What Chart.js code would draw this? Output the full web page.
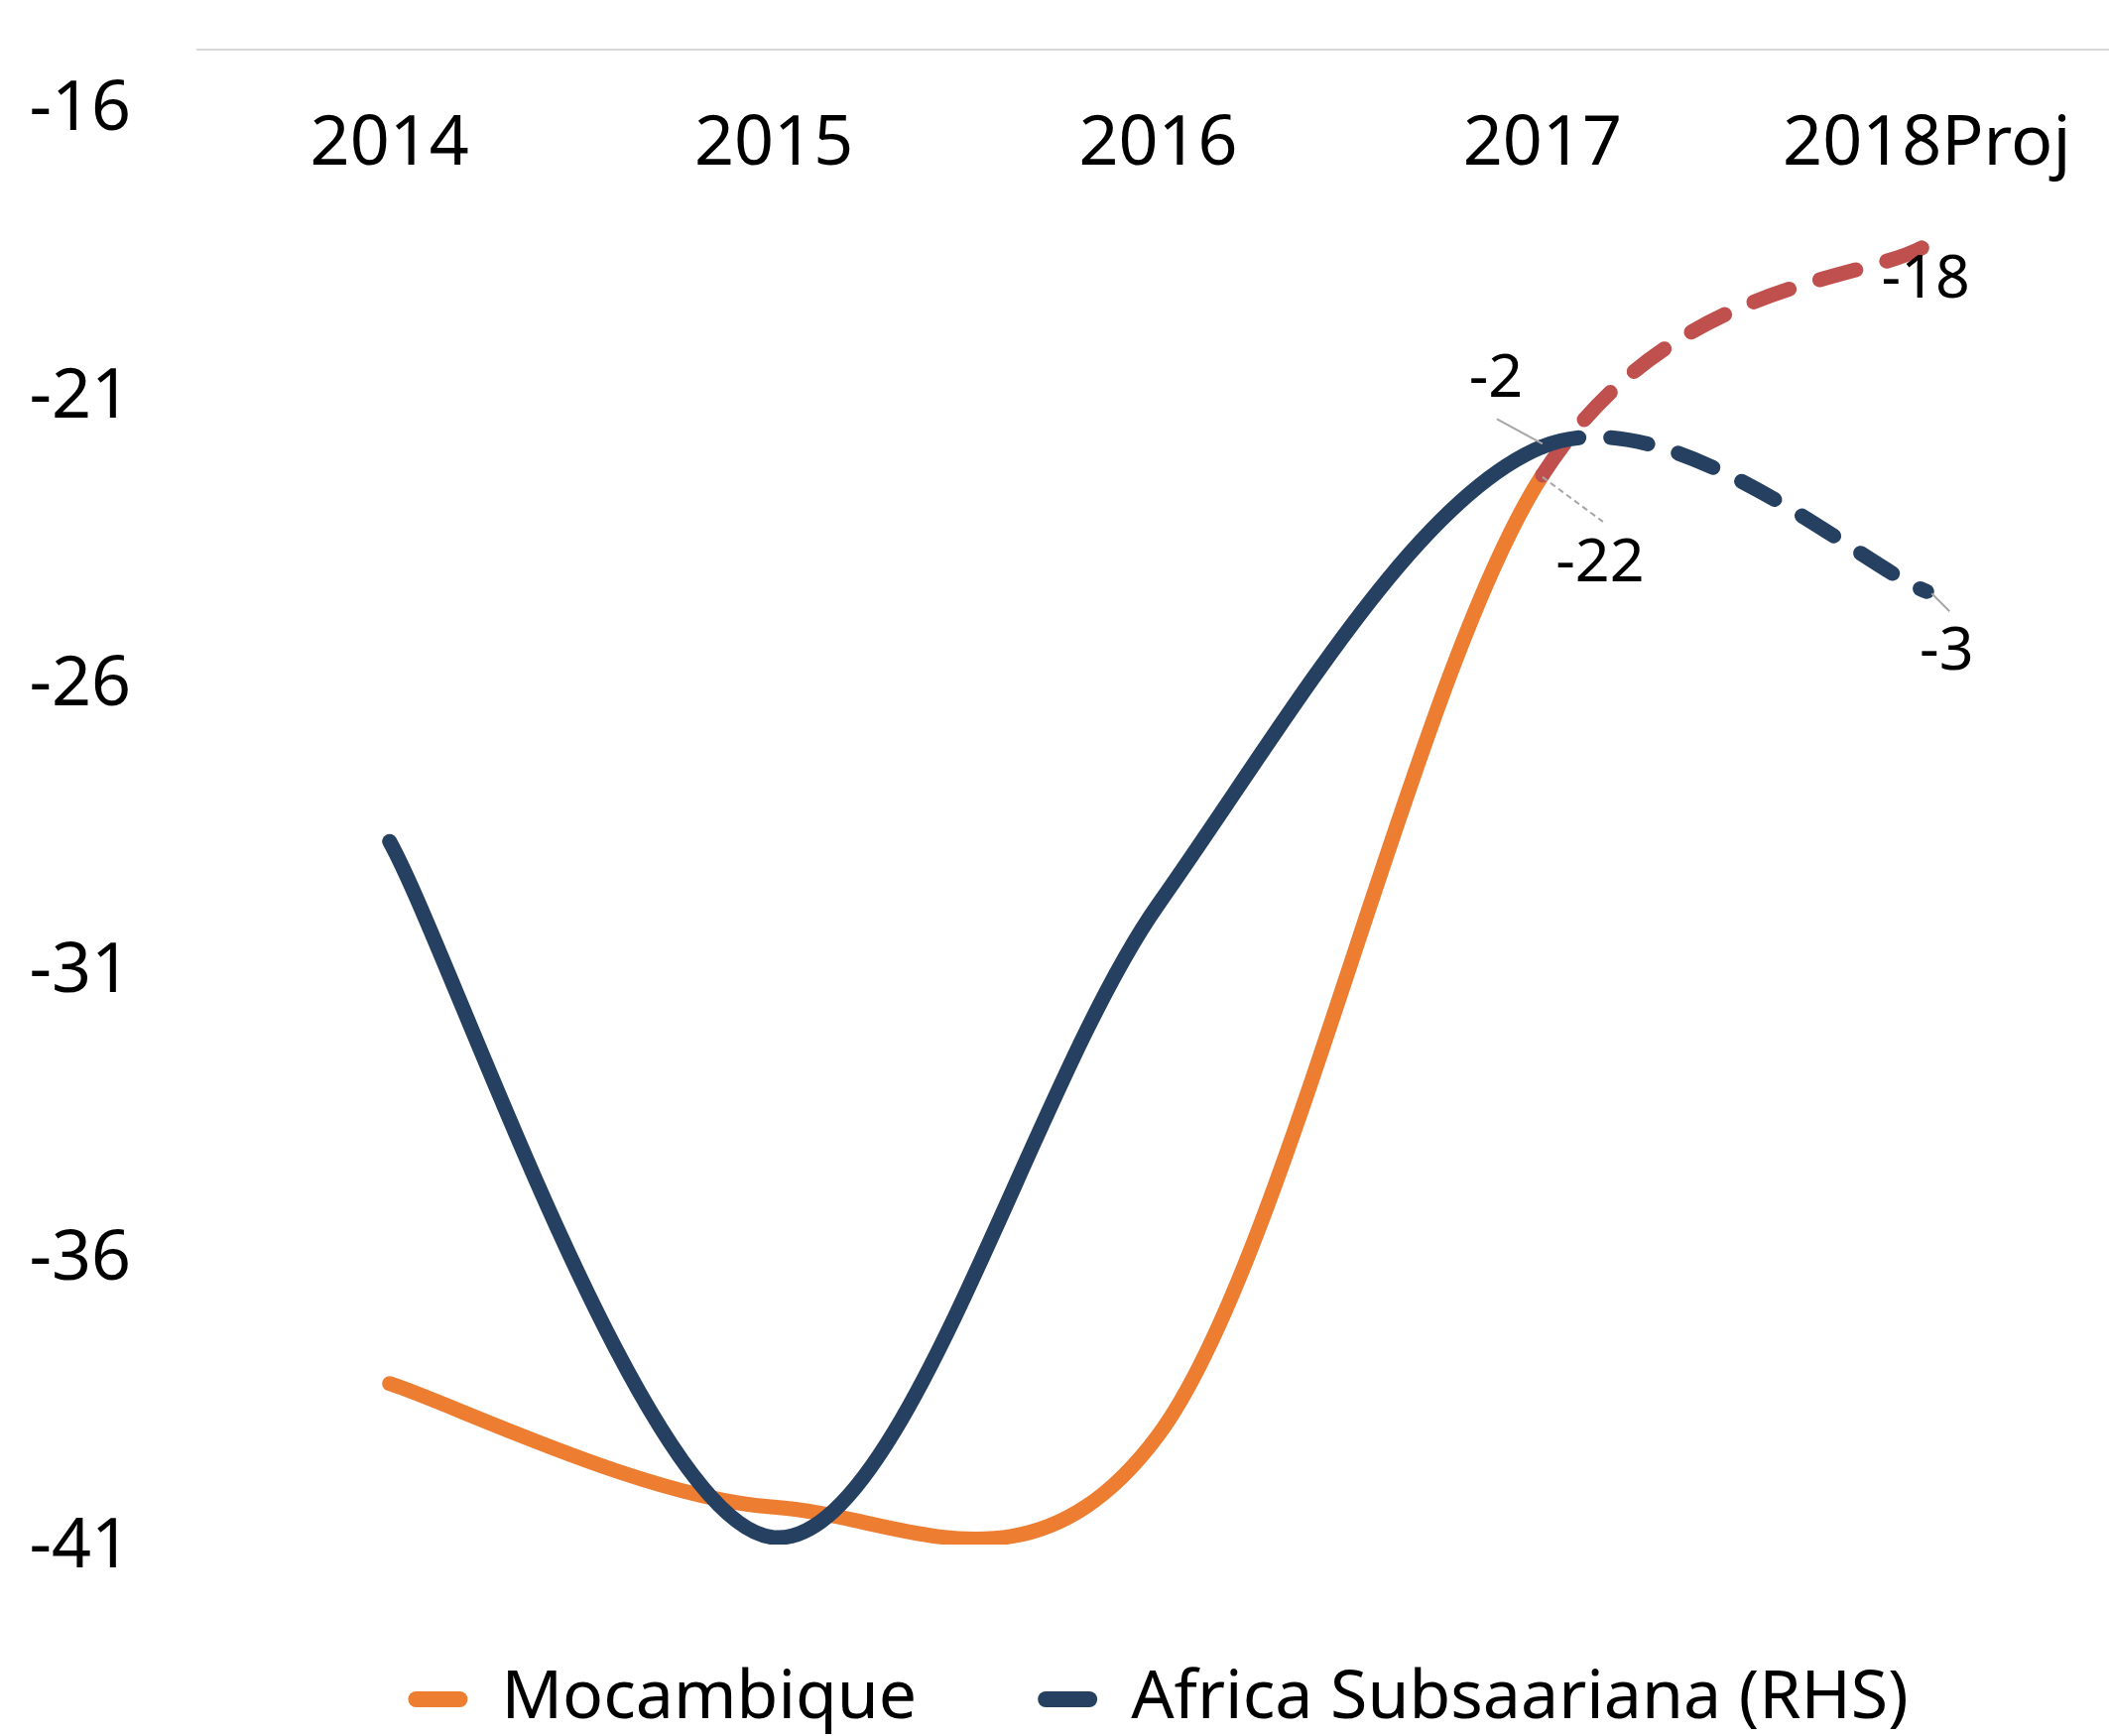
<!DOCTYPE html>
<html>
<head>
<meta charset="utf-8">
<script src="https://cdn.jsdelivr.net/npm/chart.js@4.4.1/dist/chart.umd.min.js"></script>
<style>
  html, body { margin: 0; padding: 0; background: #fff; overflow: hidden; }
  #wrap { width: 2136px; height: 1750px; }
</style>
</head>
<body>
<div id="wrap"><canvas id="chart"></canvas></div>
<script>
// Mocambique (eixo esquerdo) vs Africa Subsaariana (eixo direito, escondido)
const years = ['2014', '2015', '2016', '2017', '2018Proj'];
const mocambique = [-38.2, -40.35, -39.1, -22.4, -18.4];
const africaSub = [-3.99, -6.97, -4.26, -2.3, -2.92];
const leftTicks = [-41, -36, -31, -26, -21, -16];

const orange = '#ED7D31';
const navy = '#254061';
const red = '#C0504D';
const projDash = [38, 32];

Chart.defaults.font.family = "'Noto Sans', 'Open Sans', sans-serif";
Chart.defaults.color = '#000';

// etiquetas dos pontos 2017 / 2018 com linhas de ligacao
const pointLabels = [
    { ds: 1, idx: 3, dx: -47, dy: -68, leader: [-46, -28, 0, -3], dash: [] },
    { ds: 0, idx: 3, dx: 58, dy: 90, leader: [0, 2, 61, 47], dash: [6, 4] },
    { ds: 0, idx: 4, dx: -1, dy: 36 },
    { ds: 1, idx: 4, dx: 20, dy: 61, leader: [5, 2, 23, 20], dash: [] }
];

// curva suave tipo Excel (Catmull-Rom uniforme, 1/6)
const excelSmooth = {
    id: 'excelSmooth',
    beforeDatasetsDraw(chart) {
        chart.getSortedVisibleDatasetMetas().forEach(meta => {
            const pts = meta.data;
            meta.dataset.updateControlPoints(chart.chartArea, 'x');
            for (let i = 0; i < pts.length; i++) {
                const p0 = pts[Math.max(i - 1, 0)];
                const p1 = pts[i];
                const p2 = pts[Math.min(i + 1, pts.length - 1)];
                const tx = (p2.x - p0.x) / 6;
                const ty = (p2.y - p0.y) / 6;
                p1.cp1x = p1.x - tx; p1.cp1y = p1.y - ty;
                p1.cp2x = p1.x + tx; p1.cp2y = p1.y + ty;
            }
        });
    }
};

const labelPlugin = {
    id: 'pointLabels',
    afterDatasetsDraw(chart) {
        const ctx = chart.ctx;
        ctx.save();
        pointLabels.forEach(l => {
            const pt = chart.getDatasetMeta(l.ds).data[l.idx];
            const value = chart.data.datasets[l.ds].data[l.idx];
            if (l.leader) {
                ctx.strokeStyle = '#a6a6a6';
                ctx.lineWidth = 2;
                ctx.setLineDash(l.dash);
                ctx.beginPath();
                ctx.moveTo(pt.x + l.leader[0], pt.y + l.leader[1]);
                ctx.lineTo(pt.x + l.leader[2], pt.y + l.leader[3]);
                ctx.stroke();
            }
            ctx.setLineDash([]);
            ctx.fillStyle = '#000';
            ctx.font = "61px 'Noto Sans', sans-serif";
            ctx.textAlign = 'center';
            ctx.textBaseline = 'middle';
            ctx.fillText(String(Math.round(value)), pt.x + l.dx, pt.y + l.dy);
        });
        ctx.restore();
    }
};

const ctx = document.getElementById('chart').getContext('2d');
const chart = new Chart(ctx, {
    type: 'line',
    data: {
        labels: years,
        datasets: [{
            label: 'Mocambique',
            data: mocambique,
            yAxisID: 'y',
            borderColor: orange,
            borderWidth: 15,
            order: 1,
            segment: {
                borderColor: c => c.p1DataIndex === 4 ? red : undefined,
                borderDash: c => c.p1DataIndex === 4 ? projDash : undefined
            }
        }, {
            label: 'Africa Subsaariana (RHS)',
            data: africaSub,
            yAxisID: 'y2',
            borderColor: navy,
            borderWidth: 15,
            order: 0,
            segment: {
                borderDash: c => c.p1DataIndex === 4 ? projDash : undefined
            }
        }]
    },
    options: {
        responsive: true,
        maintainAspectRatio: false,
        animation: false,
        devicePixelRatio: 1,
        layout: { padding: { top: 50, left: 0, right: 0, bottom: -7 } },
        elements: {
            point: { radius: 0 },
            line: {
                tension: 0.4,
                capBezierPoints: false,
                borderCapStyle: 'round',
                borderJoinStyle: 'round',
                fill: false
            }
        },
        scales: {
            x: {
                type: 'category',
                position: { y: -15 },
                offset: true,
                grid: { display: false, drawTicks: false },
                border: { display: true, color: '#d9d9d9', width: 2 },
                ticks: { font: { size: 70 }, color: '#000', padding: 54, autoSkip: false, maxRotation: 0 },
                afterFit: s => { s.paddingLeft = 0; s.paddingRight = 0; }
            },
            y: {
                position: 'left',
                min: -41,
                max: -15,
                grid: { display: false, drawTicks: false },
                border: { display: false },
                ticks: { font: { size: 70 }, color: '#000', padding: 67, labelOffset: 3, callback: v => String(v) },
                afterBuildTicks: s => { s.ticks = leftTicks.map(v => ({ value: v })); },
                afterFit: s => { s.width = 199; s.paddingTop = 0; s.paddingBottom = 0; }
            },
            y2: {
                position: 'right',
                display: false,
                min: -7,
                max: -0.6
            }
        },
        plugins: {
            legend: {
                position: 'bottom',
                fullSize: false,
                labels: {
                    font: { size: 68 },
                    color: '#000',
                    boxWidth: 60,
                    boxHeight: 16,
                    padding: 122,
                    generateLabels: c => c.data.datasets.map((d, i) => ({
                        text: d.label,
                        fillStyle: d.borderColor,
                        strokeStyle: d.borderColor,
                        lineWidth: 0,
                        borderRadius: 8,
                        hidden: false,
                        datasetIndex: i,
                        fontColor: '#000'
                    }))
                }
            },
            tooltip: { enabled: false }
        }
    },
    plugins: [excelSmooth, labelPlugin]
});
</script>
</body>
</html>
